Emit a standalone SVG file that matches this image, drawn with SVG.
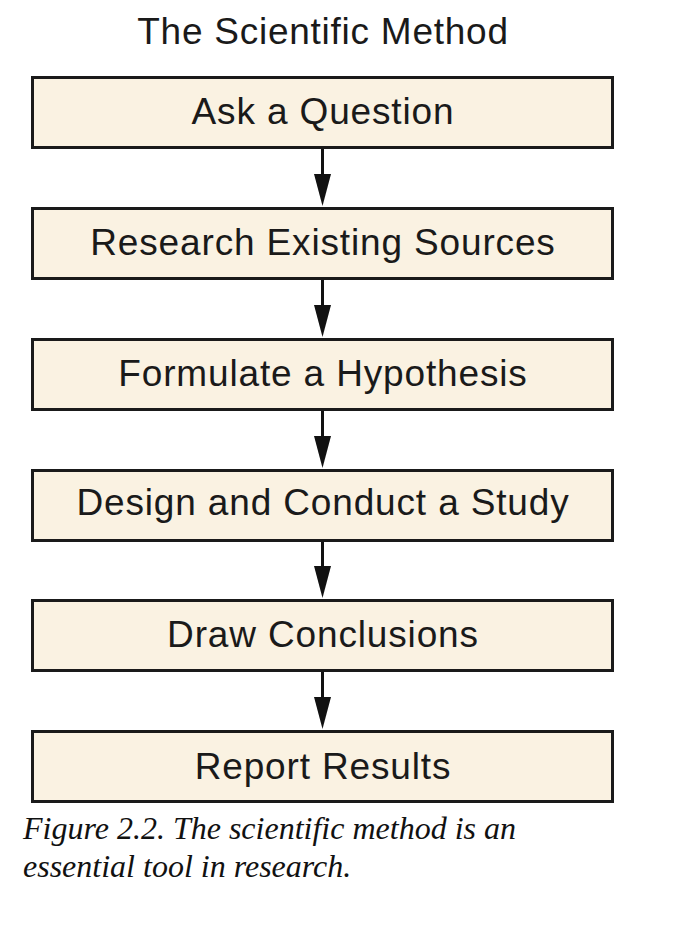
<svg xmlns="http://www.w3.org/2000/svg" width="688" height="936" viewBox="0 0 688 936">
  <style>
    .box { fill: #FAF2E2; stroke: #1a1a1a; stroke-width: 3; }
    .label { font-family: "Liberation Sans", Arial, sans-serif; font-size: 37px; letter-spacing: 0.85px; fill: #1a1a1a; text-anchor: middle; }
    .title { font-family: "Liberation Sans", Arial, sans-serif; font-size: 37px; letter-spacing: 0.75px; fill: #1a1a1a; text-anchor: middle; }
    .caption { font-family: "Liberation Serif", "Times New Roman", serif; font-style: italic; font-size: 32px; fill: #111; }
    .conn { stroke: #111; stroke-width: 3; fill: none; }
    .head { fill: #111; }
  </style>
  <rect width="688" height="936" fill="#fff"/>

  <text class="title" x="323" y="44">The Scientific Method</text>

  <g id="connectors">
    <line class="conn" x1="322.5" y1="148" x2="322.5" y2="175"/>
    <path class="head" d="M314,174 L331,174 L322.5,206 Z"/>
    <line class="conn" x1="322.5" y1="279" x2="322.5" y2="306"/>
    <path class="head" d="M314,305 L331,305 L322.5,337 Z"/>
    <line class="conn" x1="322.5" y1="410" x2="322.5" y2="437"/>
    <path class="head" d="M314,436 L331,436 L322.5,468 Z"/>
    <line class="conn" x1="322.5" y1="541" x2="322.5" y2="567"/>
    <path class="head" d="M314,566 L331,566 L322.5,598 Z"/>
    <line class="conn" x1="322.5" y1="671" x2="322.5" y2="698"/>
    <path class="head" d="M314,697 L331,697 L322.5,729 Z"/>
  </g>

  <g id="ask">
    <rect class="box" x="32.5" y="77.5" width="580" height="70"/>
    <text class="label" x="323" y="124">Ask a Question</text>
  </g>
  <g id="research">
    <rect class="box" x="32.5" y="208.5" width="580" height="70"/>
    <text class="label" x="323" y="255">Research Existing Sources</text>
  </g>
  <g id="hypothesis">
    <rect class="box" x="32.5" y="339.5" width="580" height="70"/>
    <text class="label" x="323" y="386">Formulate a Hypothesis</text>
  </g>
  <g id="study">
    <rect class="box" x="32.5" y="470.5" width="580" height="70"/>
    <text class="label" x="323" y="515">Design and Conduct a Study</text>
  </g>
  <g id="conclusions">
    <rect class="box" x="32.5" y="600.5" width="580" height="70"/>
    <text class="label" x="323" y="647">Draw Conclusions</text>
  </g>
  <g id="report">
    <rect class="box" x="32.5" y="731.5" width="580" height="70"/>
    <text class="label" x="323" y="779">Report Results</text>
  </g>

  <text class="caption" x="23" y="839">Figure 2.2. The scientific method is an</text>
  <text class="caption" x="23" y="877">essential tool in research.</text>
</svg>
